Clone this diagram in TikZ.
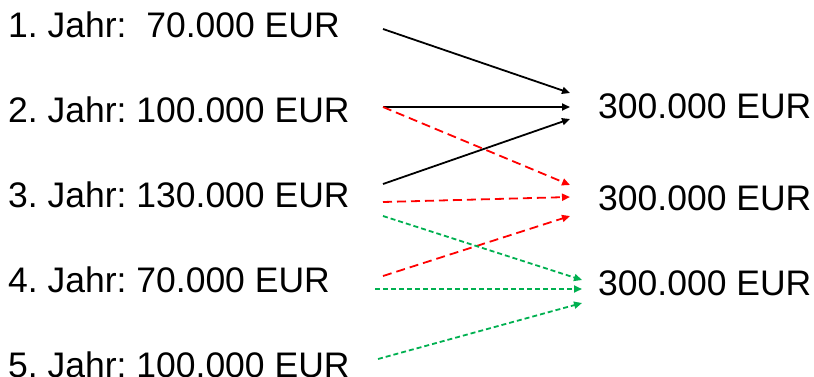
\documentclass[tikz,border=0pt]{standalone}
\usepackage{fontspec}
\setmainfont{Liberation Sans}
\usetikzlibrary{arrows.meta}
\definecolor{okgreen}{RGB}{0,176,80}
\frenchspacing
\begin{document}
\begin{tikzpicture}[x=1bp,y=-1bp,
  lbl/.style={anchor=base west,inner sep=0pt,font=\fontsize{35.5bp}{40bp}\selectfont},
  conn/.style={line width=1.8bp,-{Triangle[length=8bp,width=7bp]}},
  plain/.style={conn,black},
  reddash/.style={conn,red,dash pattern=on 9bp off 5bp},
  greendash/.style={conn,okgreen,dash pattern=on 5bp off 3bp}]
\useasboundingbox (0,0) rectangle (814,376);
% year amounts
\node[lbl] (y1) at (8,37)  {1. Jahr:\ \ 70.000 EUR};
\node[lbl] (y2) at (8,122) {2. Jahr: 100.000 EUR};
\node[lbl] (y3) at (8,207) {3. Jahr: 130.000 EUR};
\node[lbl] (y4) at (8,292) {4. Jahr: 70.000 EUR};
\node[lbl] (y5) at (8,377) {5. Jahr: 100.000 EUR};
% three-year sums
\node[lbl] (s1) at (598,118) {300.000 EUR};
\node[lbl] (s2) at (598,210) {300.000 EUR};
\node[lbl] (s3) at (598,295) {300.000 EUR};
% connector ends
\coordinate (a1) at (383,29);  \coordinate (t1a) at (570,93);
\coordinate (a2) at (383,107); \coordinate (t1b) at (570,107);
\coordinate (a3) at (383,184); \coordinate (t1c) at (570,119);
\coordinate (b2) at (383,107); \coordinate (t2a) at (570,185);
\coordinate (b3) at (383,202); \coordinate (t2b) at (570,197);
\coordinate (b4) at (383,276); \coordinate (t2c) at (570,216);
\coordinate (c3) at (383,216); \coordinate (t3a) at (582,280);
\coordinate (c4) at (375,289); \coordinate (t3b) at (582,289);
\coordinate (c5) at (378,359); \coordinate (t3c) at (582,303);
% years 1-3
\draw[plain] (a1) -- (t1a);
\draw[plain] (a2) -- (t1b);
\draw[plain] (a3) -- (t1c);
% years 2-4
\draw[reddash] (b2) -- (t2a);
\draw[reddash] (b3) -- (t2b);
\draw[reddash] (b4) -- (t2c);
% years 3-5
\draw[greendash] (c3) -- (t3a);
\draw[greendash] (c4) -- (t3b);
\draw[greendash] (c5) -- (t3c);
\end{tikzpicture}
\end{document}
